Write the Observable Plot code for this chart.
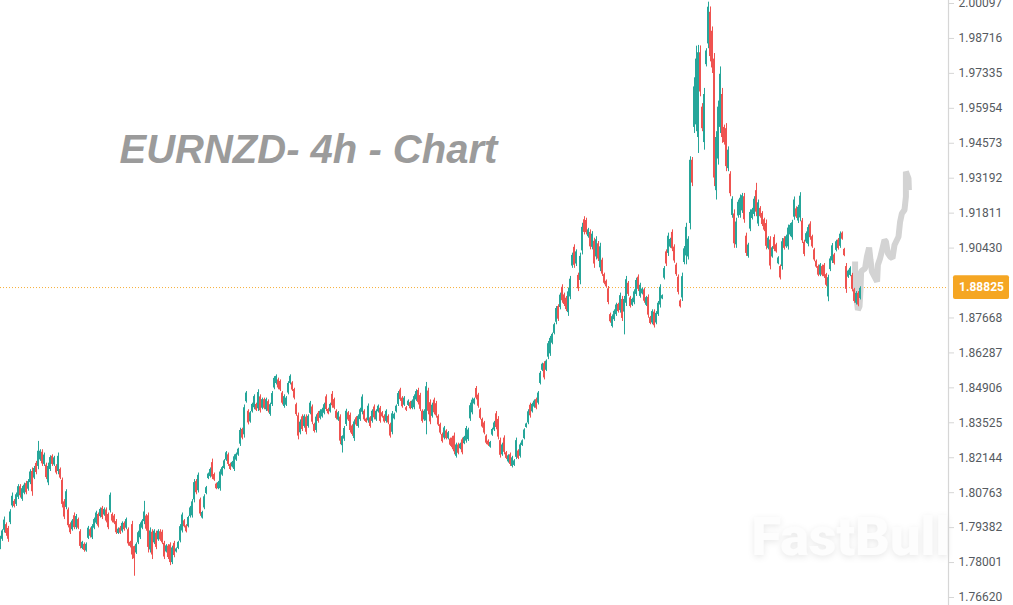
<!DOCTYPE html>
<html>
<head>
<meta charset="utf-8">
<script src="https://cdn.jsdelivr.net/npm/d3@7"></script>
<script src="https://cdn.jsdelivr.net/npm/@observablehq/plot@0.6"></script>
<style>
html,body{margin:0;padding:0;background:#fff;overflow:hidden}
svg{display:block}
</style>
</head>
<body>
<div id="chart"></div>
<script>
// Candles as [high, low, open, close], in units of 0.0001
const earlyRange = [
[17904,17851,17860,17892],[17930,17884,17892,17925],[17980,17917,17928,17968],[17957,17904,17950,17915],[17943,17880,17935,17892],
[18009,17950,17958,18000],[18075,18016,18024,18062],[18049,18016,18042,18022],[18075,18022,18030,18068],[18108,18049,18058,18100],
[18108,18055,18100,18064],[18101,18042,18050,18092],[18114,18068,18074,18106],[18121,18068,18112,18076],[18128,18082,18090,18120],
[18167,18108,18116,18158],[18174,18062,18160,18080],[18180,18128,18134,18172],[18200,18147,18192,18156],[18279,18167,18180,18240],
[18246,18200,18206,18240],[18246,18180,18236,18190],[18233,18180,18188,18225],[18193,18128,18185,18136],[18193,18104,18115,18180],
[18222,18160,18168,18215],[18226,18180,18220,18188],[18220,18180,18186,18214],[18187,18147,18180,18154],[18233,18147,18160,18220],
[18174,18128,18168,18134],[18134,18016,18125,18030],[18049,17970,18040,17980],[18088,18009,18018,18080],[18016,17937,18008,17946],
[17957,17911,17950,17918],[17970,17924,17930,17964],[17996,17930,17985,17938],[17990,17930,17938,17982],[17976,17930,17970,17936],
[17930,17854,17922,17864],[17884,17851,17856,17880],[17878,17841,17872,17848],[17878,17841,17846,17872],[17943,17891,17896,17936],
[17937,17897,17930,17904],[17950,17891,17898,17942],[17976,17930,17936,17970],[18003,17950,17956,17996],[17996,17937,17990,17944],
[18016,17976,17982,18010],[18022,17970,18015,17978],[18016,17983,17988,18010],[18016,17957,18008,17964],[17996,17930,17990,17938],
[18075,17996,18005,18066],[17996,17957,17990,17964],[17990,17950,17984,17956],[17970,17911,17962,17918],[17937,17911,17915,17932],
[17943,17911,17936,17916],[17961,17917,17924,17955],[17961,17924,17955,17930],[17976,17930,17936,17970],[17937,17865,17930,17874],
[17884,17858,17880,17864],[17963,17812,17950,17830],[17865,17746,17863,17815],[17878,17832,17838,17872],[17924,17871,17878,17918],
[17957,17891,17898,17950],[17970,17930,17936,17964],[18042,17950,17962,18000],[17990,17924,17984,17932],[17996,17838,17985,17860],
[17937,17838,17850,17925],[17930,17812,17920,17830],[17930,17871,17878,17924],[17924,17851,17916,17860],[17930,17884,17890,17924],
[17930,17884,17922,17890],[17928,17871,17920,17878],[17884,17812,17876,17822],[17871,17838,17842,17866],[17871,17812,17865,17820],
[17878,17788,17870,17800],[17865,17792,17800,17858],[17884,17819,17876,17828],[17858,17838,17842,17854],[17884,17851,17856,17880],
[17950,17878,17885,17942],[17996,17917,17925,17988],[17970,17937,17965,17942],[17950,17917,17945,17922],[17983,17937,17942,17978],
[18022,17976,17982,18016],[18049,17976,17985,18040],[18128,18036,18048,18116],[18128,18068,18120,18076],[18154,18075,18084,18145],
[18055,17983,18048,17992],[18003,17972,17976,17998],[18068,18009,18016,18060],[18101,18068,18073,18096],[18154,18128,18132,18150],
[18174,18134,18140,18168],[18209,18128,18195,18138],[18154,18121,18148,18126],[18114,18088,18110,18092],[18121,18088,18092,18116],
[18167,18082,18092,18158],[18180,18141,18146,18175],[18207,18167,18172,18202],[18239,18200,18205,18234],[18233,18180,18226,18188],
[18193,18164,18188,18168],[18200,18174,18178,18196],[18226,18160,18168,18218],[18233,18200,18205,18228],[18252,18220,18225,18248],
[18331,18259,18268,18322],[18331,18285,18326,18292],[18423,18292,18305,18412],[18476,18430,18436,18470],[18404,18344,18398,18352],
[18397,18351,18356,18392],[18430,18391,18396,18425],[18463,18404,18412,18456],[18430,18397,18425,18402],[18483,18397,18408,18472],
[18463,18391,18455,18400],[18450,18404,18410,18444],[18450,18404,18444,18410],[18450,18397,18404,18444],[18443,18391,18436,18398],
[18430,18378,18385,18424],[18476,18417,18425,18468],[18535,18483,18490,18528],[18542,18502,18508,18536],[18529,18483,18522,18490],
[18522,18476,18516,18482],[18476,18423,18470,18430],[18463,18410,18417,18456],[18456,18417,18422,18450],[18515,18463,18470,18508],
[18542,18502,18508,18536],[18515,18476,18510,18482],[18489,18443,18484,18450],[18430,18378,18424,18385],[18391,18285,18380,18300],
[18364,18305,18313,18355],[18384,18318,18376,18326],[18384,18331,18338,18378],[18384,18305,18375,18315],[18384,18331,18338,18378],
[18437,18384,18390,18430],[18423,18345,18415,18355],[18351,18312,18346,18318],[18384,18312,18322,18375],[18397,18351,18390,18358]
];
const midRange = [
[18404,18364,18370,18398],[18410,18371,18376,18404],[18430,18384,18390,18424],[18463,18397,18455,18405],[18410,18384,18405,18388],
[18430,18391,18396,18425],[18476,18410,18465,18420],[18450,18404,18444,18410],[18404,18364,18398,18370],[18397,18358,18363,18392],
[18384,18266,18375,18280],[18301,18233,18262,18298],[18338,18279,18288,18330],[18406,18338,18346,18398],[18397,18358,18392,18364],
[18391,18312,18382,18322],[18345,18299,18340,18306],[18364,18279,18290,18356],[18377,18338,18372,18344],[18384,18331,18338,18378],
[18410,18358,18365,18404],[18463,18384,18394,18454],[18404,18358,18398,18364],[18371,18351,18367,18354],[18427,18351,18360,18418],
[18377,18331,18372,18338],[18404,18351,18358,18398],[18423,18364,18415,18372],[18404,18358,18364,18398],[18423,18391,18396,18418],
[18417,18351,18410,18358],[18397,18371,18392,18376],[18384,18351,18378,18356],[18404,18351,18358,18398],[18384,18345,18378,18352],
[18351,18292,18345,18300],[18397,18305,18315,18388],[18391,18364,18368,18386],[18423,18391,18396,18418],[18476,18417,18425,18468],
[18489,18437,18482,18444],[18456,18410,18450,18416],[18456,18417,18422,18450],[18417,18397,18412,18402],[18443,18417,18421,18438],
[18437,18404,18432,18408],[18443,18404,18409,18438],[18463,18404,18412,18456],[18483,18437,18443,18476],[18489,18423,18480,18432],
[18469,18397,18460,18406],[18404,18351,18398,18358],[18404,18358,18364,18398],[18512,18305,18360,18495],[18489,18384,18478,18398],
[18443,18345,18432,18356],[18430,18371,18378,18422],[18450,18384,18442,18392],[18437,18371,18428,18380],[18384,18338,18378,18344],
[18351,18305,18345,18312],[18312,18272,18306,18278],[18338,18285,18292,18332],[18325,18285,18320,18290],[18318,18285,18290,18313],
[18292,18259,18288,18264],[18299,18246,18292,18254],[18312,18226,18300,18238],[18272,18213,18220,18265],[18272,18226,18265,18232],
[18272,18246,18250,18268],[18292,18226,18285,18234],[18299,18266,18270,18295],[18338,18272,18280,18330],[18331,18279,18286,18324],
[18430,18358,18368,18420],[18450,18384,18392,18442],[18450,18423,18427,18446],[18496,18443,18488,18450],[18469,18410,18462,18418],
[18410,18364,18404,18370],[18371,18331,18366,18336],[18358,18305,18352,18312],[18305,18266,18300,18272],[18285,18259,18280,18264],
[18279,18252,18256,18275],[18331,18299,18304,18326],[18358,18318,18324,18352],[18397,18325,18388,18334],[18377,18285,18366,18296],
[18292,18213,18282,18224],[18272,18220,18226,18265],[18301,18226,18292,18236],[18239,18207,18234,18212],[18226,18193,18198,18222],
[18233,18180,18226,18188],[18220,18174,18180,18214],[18207,18180,18184,18202],[18292,18207,18216,18282],[18246,18207,18241,18212],
[18272,18213,18220,18265],[18285,18259,18263,18281],[18329,18285,18290,18324],[18351,18331,18334,18348],[18404,18345,18352,18396],
[18430,18371,18422,18380],[18430,18391,18396,18425],[18443,18410,18415,18438],[18450,18404,18444,18410],[18476,18423,18430,18470],
[18555,18502,18508,18548],[18588,18555,18560,18584],[18594,18522,18586,18530],[18601,18555,18560,18596]
];
const breakout = [
[18674,18602,18612,18665],[18694,18615,18625,18686],[18707,18661,18667,18702],[18746,18700,18706,18740],[18812,18740,18750,18804],
[18819,18753,18812,18762],[18865,18799,18808,18857],[18898,18825,18888,18835],[18865,18812,18858,18820],[18852,18792,18845,18800],
[18885,18773,18788,18870],[18931,18839,18850,18920],[19023,18963,18972,19014],[19056,18963,19046,18975],[19036,18970,18980,19028],
[18944,18871,18935,18882],[19023,18898,18915,19010],[19141,19016,19032,19125],[19167,19095,19155,19105],[19161,19095,19152,19104],
[19121,19082,19088,19115],[19115,19036,19105,19048],[19108,19036,19046,19098],[19082,18963,19070,18980],[19088,18996,19008,19076],
[19069,18990,19060,19000],[19062,18950,18965,19048],[19003,18931,18995,18940],[18944,18898,18938,18904],[18917,18885,18912,18890],
[18891,18819,18882,18828],[18786,18746,18780,18752],[18779,18727,18733,18772],[18799,18753,18760,18793],[18825,18773,18780,18818],
[18825,18786,18820,18792],[18865,18786,18796,18855],[18852,18753,18840,18765],[18852,18700,18790,18840],[18931,18812,18825,18918],
[18911,18852,18904,18860],[18852,18806,18846,18812],[18845,18812,18817,18840],[18878,18819,18827,18870],[18924,18852,18860,18915],
[18937,18871,18928,18880],[18904,18845,18852,18896],[18885,18858,18862,18881],[18885,18825,18878,18833],[18852,18812,18817,18847],
[18858,18766,18848,18778],[18773,18740,18768,18745],[18799,18740,18747,18792],[18799,18727,18790,18736],[18792,18740,18747,18785],
[18832,18773,18780,18825],[18898,18806,18818,18888],[18858,18839,18842,18855],[18970,18917,18924,18962],[19036,18970,19028,18980],
[19102,19010,19022,19090],[19082,19042,19047,19077],[19115,19029,19105,19040],[19056,18983,19047,18992],[18983,18931,18976,18938],
[18937,18858,18928,18868],[18839,18806,18834,18811],[18944,18832,18846,18930],[19049,18977,18986,19040],[19141,18977,19012,19125],
[19088,18996,19008,19078]
];
const spike = [
[19404,19115,19140,19390],[19401,19286,19390,19300],[19716,19496,19520,19680],[19841,19503,19530,19790],[19844,19417,19480,19815],
[19842,19641,19815,19660],[19614,19503,19600,19515],[19674,19430,19460,19650],[19831,19759,19768,19822],[20015,19831,19850,19995],
[19996,19779,19975,19800],[19917,19733,19900,19755],[19812,19286,19790,19320],[19503,19233,19270,19480],[19624,19371,19395,19600],
[19759,19496,19520,19730],[19674,19457,19650,19480],[19529,19450,19520,19460],[19535,19345,19515,19365],[19443,19345,19357,19430],
[19345,19246,19335,19258],[19246,19161,19172,19236],[19194,19042,19178,19060],[19161,19042,19056,19146],[19233,19161,19170,19224],
[19253,19161,19172,19240],[19259,19180,19190,19250],[19259,19141,19246,19155],[19102,19010,19090,19022],[19062,19003,19010,19055],
[19194,19108,19118,19184],[19200,19154,19160,19194],[19246,19167,19176,19236],[19299,19167,19270,19185],[19233,19128,19138,19222],
[19207,19161,19200,19167],[19187,19128,19180,19136],[19161,19108,19155,19114],[19154,19036,19140,19050],[19088,19036,19042,19082],
[19088,18957,19075,18972],[19049,19003,19008,19044],[19095,19029,19085,19038],[19062,19023,19056,19028],[19009,18977,18981,19004]
];
const drift = [
[18976,18917,18970,18925],[19081,18956,18970,19068],[19088,19035,19080,19042],[19094,19042,19048,19088],[19134,19035,19048,19122],
[19140,19088,19095,19133],[19153,19074,19084,19143],[19245,19153,19165,19233],[19206,19160,19198,19166],[19212,19140,19150,19204],
[19262,19147,19162,19248],[19160,19061,19150,19072],[19074,19009,19066,19018],[19107,19061,19067,19100],[19134,19048,19058,19124],
[19147,19074,19138,19084],[19094,19042,19088,19048],[19042,18989,19036,18996],[18996,18963,18991,18968],[18976,18930,18970,18936],
[18982,18930,18936,18976],[18976,18930,18970,18936],[18982,18923,18975,18930],[18943,18890,18938,18896],[18936,18831,18850,18926],
[19009,18950,18958,19000],[19061,18982,18992,19052],[19022,18976,19016,18982],[19074,19028,19034,19068],[19081,19035,19075,19041],
[19107,19042,19050,19098],[19107,19074,19102,19078],[19042,19009,19038,19013],[18982,18864,18970,18880],[18956,18923,18928,18952],
[18969,18930,18935,18963],[18943,18870,18935,18880],[18884,18825,18878,18832],[18871,18818,18825,18864],[18871,18811,18864,18818],
[18890,18838,18844,18884]
];
// Projected path (grey)
const projectionBar = [427.3,427.3,427.7,428.2,428.7,429.5,430,430.3,431.3,432.3,433.2,434.3,435,435.7,437,438.3,438.7,439.8,441,442,442.7,443.7,444.8,446,447,449,449.8,450.7,452,452.7,452.7,454,454.2];
const projectionPrice = [18990,18937,18884,18832,18799,18812,18878,18950,18957,18963,19009,19045,18996,18950,18930,18911,18977,19003,19042,19075,19069,19022,19009,19003,19055,19088,19147,19180,19194,19246,19345,19318,19272];
const tickValues = [2.00097,1.98716,1.97335,1.95954,1.94573,1.93192,1.91811,1.90430,1.87668,1.86287,1.84906,1.83525,1.82144,1.80763,1.79382,1.78001,1.76620];
const lastPrice = 1.88825;
const priceLineLevel = 1.8887;
const titleText = "EURNZD- 4h - Chart";
const brandText = "FastBull";

const raw = [...earlyRange, ...midRange, ...breakout, ...spike, ...drift];
const candles = raw.map(([h, l, o, c], i) => ({
  i, high: h / 1e4, low: l / 1e4, open: o / 1e4, close: c / 1e4, dir: c >= o ? "up" : "down"
}));
const projection = projectionBar.map((b, k) => ({b, p: projectionPrice[k] / 1e4}));

const axisEnd = 474;          // last bar slot before the price axis
const sans = "Roboto, sans-serif";

const chart = Plot.plot({
  width: 1013, height: 605,
  marginLeft: 0, marginRight: 65, marginTop: 0, marginBottom: 0,
  style: {background: "#fff", overflow: "hidden"},
  x: {domain: [0, axisEnd], range: [0, 948], axis: null},
  y: {domain: [1.7662, 2.00097], range: [597, 3], axis: null},
  color: {domain: ["up", "down"], range: ["#26a69a", "#ef5350"]},
  marks: [
    Plot.text([titleText], {frameAnchor: "top-left", dx: 119, dy: 150, text: d => d,
      fontFamily: "'Liberation Sans', Arial, sans-serif", fontSize: 40, fontWeight: 700, fontStyle: "italic",
      fill: "#9b9b9b", textAnchor: "start", lineAnchor: "middle"}),
    Plot.text([brandText], {frameAnchor: "top-left", dx: 751, dy: 537, text: d => d,
      fontFamily: sans, fontSize: 54, fontWeight: 900, fill: "#fdfdfd", textAnchor: "start", lineAnchor: "middle",
      imageFilter: "drop-shadow(0 2px 3px rgba(0,0,0,0.09))"}),
    Plot.ruleY([priceLineLevel], {x1: 0, x2: axisEnd, y: d => d, stroke: "#f5a623", strokeWidth: 1, strokeDasharray: "1 2", strokeOpacity: 0.9}),
    Plot.line(projection, {x: "b", y: "p", stroke: "#d3d3d3", strokeWidth: 6, strokeLinejoin: "miter", strokeLinecap: "butt"}),
    Plot.ruleX(candles, {x: "i", y1: "low", y2: "high", stroke: "dir", strokeWidth: 1}),
    Plot.rect(candles, {x1: d => d.i - 0.5, x2: d => d.i + 0.5, y1: "open", y2: "close", fill: "dir"}),
    Plot.ruleX([axisEnd], {stroke: "#d6d6d6", strokeWidth: 1.2}),
    Plot.axisY(tickValues, {anchor: "right", tickSize: 5, tickPadding: 5, tickFormat: d3.format(".5f"),
      stroke: "#d6d6d6", fill: "#555a60", fontFamily: sans, fontSize: 12, label: null}),
    Plot.rect([lastPrice], {x1: axisEnd + 2.5, x2: axisEnd + 30.5, y1: () => priceLineLevel - 0.0047, y2: () => priceLineLevel + 0.0047, fill: "#f5a623", rx: 2}),
    Plot.text([lastPrice], {x: axisEnd + 16.5, y: () => priceLineLevel, text: d => d3.format(".5f")(d),
      fill: "#fff", fontFamily: sans, fontSize: 12, fontWeight: 700})
  ]
});
document.getElementById("chart").appendChild(chart);
</script>
</body>
</html>
